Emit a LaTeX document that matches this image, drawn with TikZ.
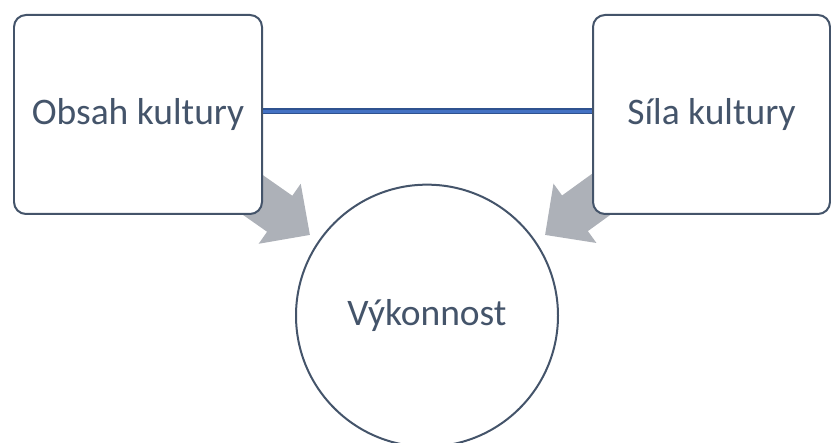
\documentclass[tikz,border=0pt]{standalone}
\usepackage{fontspec}
\setmainfont{Carlito}
\usepackage{xcolor}
\usetikzlibrary{arrows.meta,backgrounds}

\definecolor{slate}{HTML}{44546A}
\definecolor{linkblue}{HTML}{4472C4}
\definecolor{linkdark}{HTML}{2F528F}
\definecolor{pushgray}{HTML}{ADB1B8}

\tikzset{
  box/.style={draw=slate, line width=0.06cm, rounded corners=0.36cm, fill=white,
              text=slate, font=\fontsize{32}{38}\selectfont, inner sep=0pt},
  goal/.style={circle, draw=slate, line width=0.06cm, fill=white, text=slate,
               font=\fontsize{32}{38}\selectfont, minimum size=7.86cm, inner sep=0pt},
  link/.style={draw=linkdark, line width=0.9pt, double=linkblue, double distance=2.8pt},
  push/.style={draw=pushgray, line width=1.32cm,
               -{Triangle[width=2.13cm,length=1.11cm]}}
}

\begin{document}
\begin{tikzpicture}
\useasboundingbox (0,0) rectangle (24.93,13.29);

% boxes and the circle
\node[box, minimum width=7.44cm, minimum height=5.97cm] (obsah) at (4.14,9.855) {Obsah kultury};
\node[box, minimum width=7.11cm, minimum height=5.97cm] (sila) at (21.345,9.855) {Síla kultury};
\node[goal] (vykon) at (12.81,3.82) {\raisebox{-2pt}{Výkonnost}};

\coordinate (tipL) at (9.3,6.24);
\coordinate (tipR) at (16.35,6.24);

% link between the boxes
\draw[link] ([yshift=0.1cm]obsah.east) -- ([yshift=0.1cm]sila.west);

% gray block arrows behind the boxes
\begin{scope}[on background layer]
\draw[push] (obsah.center) -- (tipL);
\draw[push] (sila.center) -- (tipR);
\end{scope}
\end{tikzpicture}
\end{document}
